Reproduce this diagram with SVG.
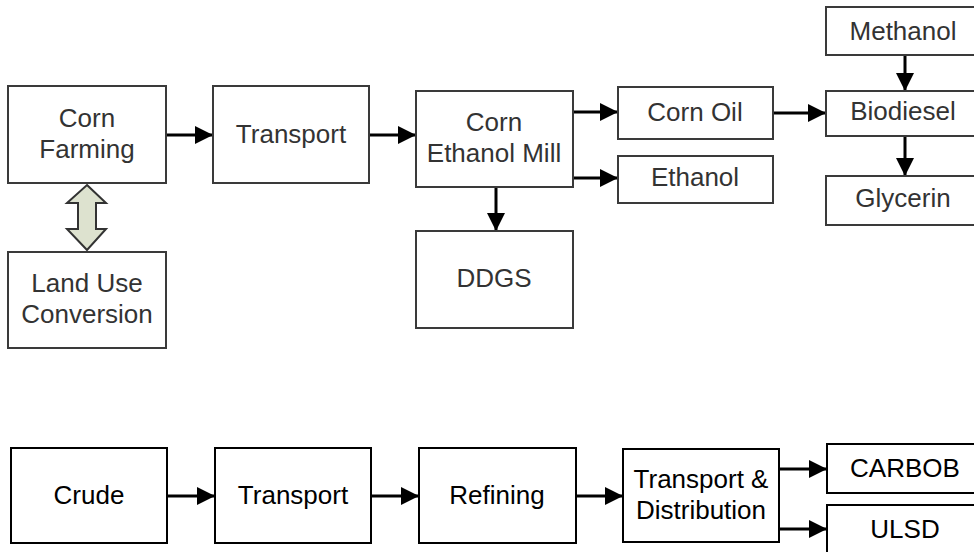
<svg xmlns="http://www.w3.org/2000/svg" width="974" height="552" viewBox="0 0 974 552">
<defs>
<marker id="ah" markerUnits="userSpaceOnUse" markerWidth="18" markerHeight="18" viewBox="0 0 18 18" refX="18" refY="9" orient="auto">
<path d="M0,0 L18,9 L0,18 Z" fill="#000"/>
</marker>
<style>
.t rect{fill:#fff;stroke:#3a3a3a;stroke-width:2}
.b rect{fill:#fff;stroke:#000;stroke-width:2}
.t text{font-family:"Liberation Sans",Arial,sans-serif;font-size:26px;fill:#333;text-anchor:middle}
.b text{font-family:"Liberation Sans",Arial,sans-serif;font-size:26px;fill:#000;text-anchor:middle}
.c line{stroke:#000;stroke-width:3;marker-end:url(#ah)}
</style>
</defs>
<rect width="974" height="552" fill="#fff"/>
<g id="connectors" class="c">
<line x1="166" y1="135" x2="213" y2="135"/>
<line x1="369" y1="135" x2="416" y2="135"/>
<line x1="573" y1="112" x2="618" y2="112"/>
<line x1="573" y1="178" x2="618" y2="178"/>
<line x1="773" y1="113" x2="826" y2="113"/>
<line x1="905" y1="55" x2="905" y2="91"/>
<line x1="905" y1="136" x2="905" y2="176"/>
<line x1="496" y1="187" x2="496" y2="231"/>
<line x1="167" y1="496" x2="215" y2="496"/>
<line x1="371" y1="496" x2="419" y2="496"/>
<line x1="576" y1="496" x2="623" y2="496"/>
<line x1="779" y1="469" x2="827" y2="469"/>
<line x1="779" y1="529" x2="827" y2="529"/>
<path id="landuse-link" d="M87,185 L106,203 L96,203 L96,229 L106,229 L87,250 L67,229 L78,229 L78,203 L67,203 Z" fill="#dde2cf" stroke="#333" stroke-width="2" stroke-linejoin="miter"/>
</g>
<g id="corn-farming" class="t"><rect x="8" y="86" width="158" height="97"/><text x="87" y="127">Corn</text><text x="87" y="158">Farming</text></g>
<g id="transport-top" class="t"><rect x="213" y="86" width="156" height="97"/><text x="291" y="143">Transport</text></g>
<g id="land-use" class="t"><rect x="8" y="252" width="158" height="96"/><text x="87" y="292">Land Use</text><text x="87" y="323">Conversion</text></g>
<g id="mill" class="t"><rect x="416" y="91" width="157" height="96"/><text x="494" y="131">Corn</text><text x="494" y="162">Ethanol Mill</text></g>
<g id="ddgs" class="t"><rect x="416" y="231" width="157" height="97"/><text x="494" y="287">DDGS</text></g>
<g id="corn-oil" class="t"><rect x="618" y="87" width="155" height="52"/><text x="695" y="121">Corn Oil</text></g>
<g id="ethanol" class="t"><rect x="618" y="156" width="155" height="47"/><text x="695" y="186">Ethanol</text></g>
<g id="methanol" class="t"><rect x="826" y="7" width="156" height="48"/><text x="903" y="40">Methanol</text></g>
<g id="biodiesel" class="t"><rect x="826" y="91" width="156" height="45"/><text x="903" y="120">Biodiesel</text></g>
<g id="glycerin" class="t"><rect x="826" y="176" width="156" height="49"/><text x="903" y="207">Glycerin</text></g>
<g id="crude" class="b"><rect x="11" y="448" width="156" height="95"/><text x="89" y="504">Crude</text></g>
<g id="transport-bottom" class="b"><rect x="215" y="448" width="156" height="95"/><text x="293" y="504">Transport</text></g>
<g id="refining" class="b"><rect x="419" y="448" width="157" height="95"/><text x="497" y="504">Refining</text></g>
<g id="td" class="b"><rect x="623" y="449" width="156" height="93"/><text x="701" y="488">Transport &amp;</text><text x="701" y="519">Distribution</text></g>
<g id="carbob" class="b"><rect x="827" y="444" width="156" height="49"/><text x="905" y="477">CARBOB</text></g>
<g id="ulsd" class="b"><rect x="827" y="505" width="156" height="56"/><text x="905" y="538">ULSD</text></g>
</svg>
